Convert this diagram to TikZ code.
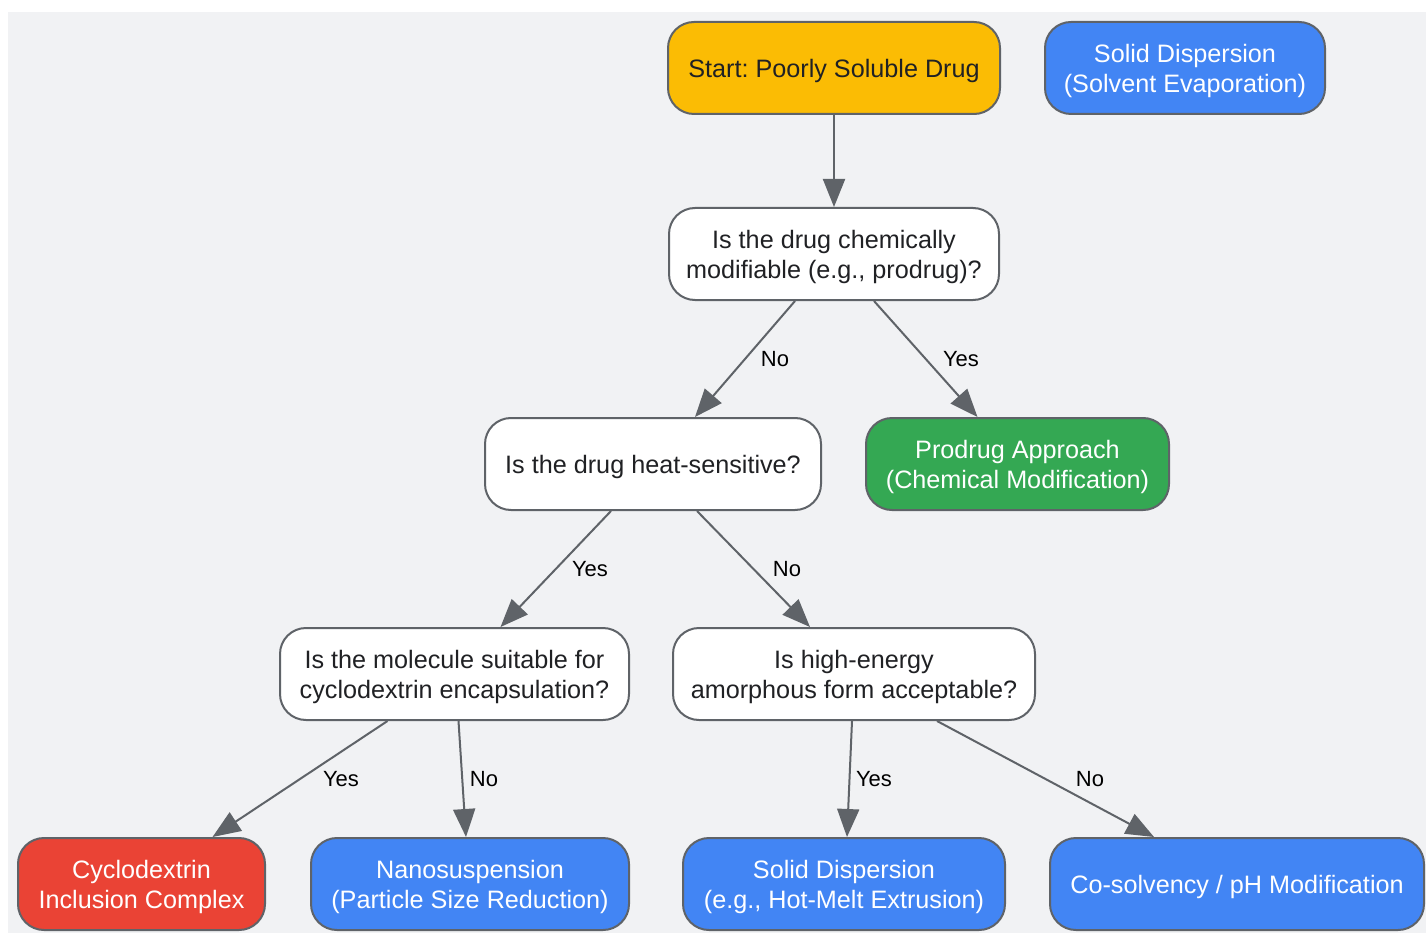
\documentclass[tikz,border=0pt]{standalone}
\usepackage{fontspec}
\setmainfont{Liberation Sans}
\usetikzlibrary{arrows.meta}
\frenchspacing
\definecolor{bg}{HTML}{F1F2F4}
\definecolor{edge}{HTML}{5F6368}
\definecolor{txt}{HTML}{202124}
\definecolor{cyellow}{HTML}{FBBC04}
\definecolor{cblue}{HTML}{4285F4}
\definecolor{cgreen}{HTML}{34A853}
\definecolor{cred}{HTML}{EA4335}
\tikzset{
  box/.style={draw=edge, line width=2pt, rounded corners=26pt, inner sep=0pt,
    minimum height=92pt, align=center, text depth=0pt, font=\fontsize{25.2}{30}\selectfont},
  qbox/.style={box, fill=white, text=txt},
  ybox/.style={box, fill=cyellow, text=txt},
  bbox/.style={box, fill=cblue, text=white},
  gbox/.style={box, fill=cgreen, text=white},
  rbox/.style={box, fill=cred, text=white},
  conn/.style={draw=edge, line width=2pt, -{Triangle[length=28pt, width=22pt]}},
  lbl/.style={font=\fontsize{22}{24}\selectfont, text=black, inner sep=0pt}
}
\begin{document}
\begin{tikzpicture}[x=1pt,y=-1pt]
\useasboundingbox (0,0) rectangle (1426,933);
\fill[bg] (8,12) rectangle (1426,933);

\node[ybox, minimum width=332pt] (start) at (834,68) {Start: Poorly Soluble Drug};
\node[bbox, minimum width=280pt] (sdse) at (1185,68) {Solid Dispersion\\(Solvent Evaporation)};
\node[qbox, minimum width=330pt] (q1) at (834,254) {Is the drug chemically\\modifiable (e.g., prodrug)?};
\node[qbox, minimum width=336pt] (q2) at (653,464) {Is the drug heat-sensitive?};
\node[gbox, minimum width=303pt] (pro) at (1017.5,464) {Prodrug Approach\\(Chemical Modification)};
\node[qbox, minimum width=349pt] (q3) at (454.5,674) {Is the molecule suitable for\\cyclodextrin encapsulation?};
\node[qbox, minimum width=362pt] (q4) at (854,674) {Is high-energy\\amorphous form acceptable?};
\node[rbox, minimum width=247pt] (cyc) at (141.5,884) {Cyclodextrin\\Inclusion Complex};
\node[bbox, minimum width=318pt] (nano) at (470,884) {Nanosuspension\\(Particle Size Reduction)};
\node[bbox, minimum width=322pt] (hme) at (844,884) {Solid Dispersion\\(e.g., Hot-Melt Extrusion)};
\node[bbox, minimum width=374pt] (cos) at (1237,884) {Co-solvency / pH Modification};

\draw[conn] (start.south) -- (q1.north);
\draw[conn] ([xshift=-39pt]q1.south) -- ([xshift=42pt]q2.north);
\draw[conn] ([xshift=40pt]q1.south) -- ([xshift=-40pt]pro.north);
\draw[conn] ([xshift=-42pt]q2.south) -- ([xshift=46pt]q3.north);
\draw[conn] ([xshift=44pt]q2.south) -- ([xshift=-44pt]q4.north);
\draw[conn] ([xshift=-67pt]q3.south) -- ([xshift=71pt]cyc.north);
\draw[conn] ([xshift=4pt]q3.south) -- ([xshift=-4pt]nano.north);
\draw[conn] ([xshift=-2pt]q4.south) -- ([xshift=3pt]hme.north);
\draw[conn] ([xshift=83pt]q4.south) -- ([xshift=-83pt]cos.north);

\node[lbl] (l1) at (775,359) {No};
\node[lbl] (l2) at (961,359) {Yes};
\node[lbl] (l3) at (590,569) {Yes};
\node[lbl] (l4) at (787,569) {No};
\node[lbl] (l5) at (341,779) {Yes};
\node[lbl] (l6) at (484,779) {No};
\node[lbl] (l7) at (874,779) {Yes};
\node[lbl] (l8) at (1090,779) {No};
\end{tikzpicture}
\end{document}
